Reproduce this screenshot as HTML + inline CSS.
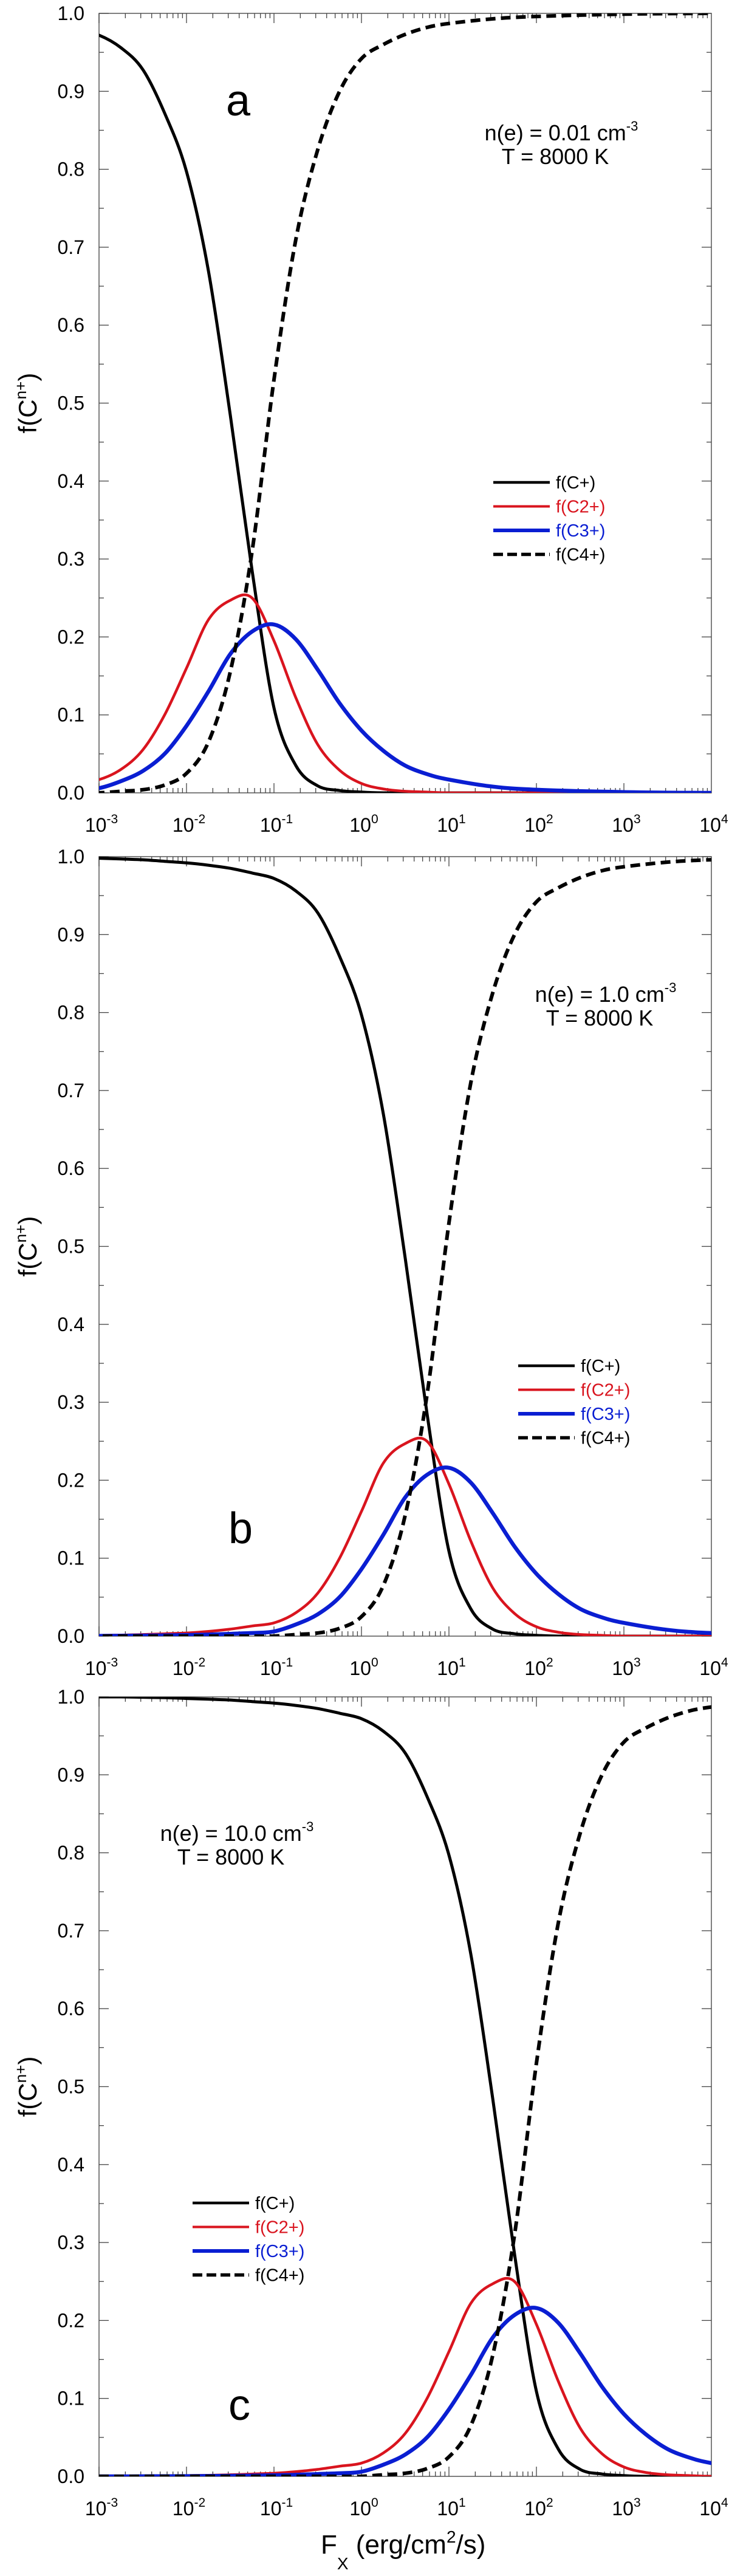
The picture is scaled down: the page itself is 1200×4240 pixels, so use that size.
<!DOCTYPE html>
<html><head><meta charset="utf-8"><title>Carbon ionization fractions vs X-ray flux</title>
<style>
html,body{margin:0;padding:0;background:#fff;}
svg{display:block;font-family:"Liberation Sans",Arial,sans-serif;}
</style></head>
<body>
<svg id="fig" width="1200" height="4240" viewBox="0 0 1200 4240" xmlns="http://www.w3.org/2000/svg">
<defs>
<clipPath id="clipA"><rect x="163" y="22" width="1008" height="1283"/></clipPath>
<clipPath id="clipB"><rect x="163" y="1410" width="1008" height="1283"/></clipPath>
<clipPath id="clipC"><rect x="163" y="2793" width="1008" height="1283"/></clipPath>
</defs>
</svg>
<script>
// Shape grid: log10(Fx) in panel-a coordinates
const logFluxGrid = [-6,-5.75,-5.5,-5.25,-5,-4.75,-4.5,-4.25,-4,-3.75,-3.5,-3.25,-3,-2.75,-2.5,-2.25,-2,-1.75,-1.5,-1.25,-1,-0.75,-0.5,-0.25,0,0.25,0.5,0.75,1,1.5,2,3,4,5,7];
const fCplus  = [1.0,1.0,0.9995,0.999,0.998,0.997,0.996,0.994,0.992,0.989,0.985,0.979,0.972,0.956,0.928,0.872,0.797,0.67,0.485,0.285,0.109,0.035,0.009,0.003,0.001,0,0,0,0,0,0,0,0,0,0];
const fC2plus = [0.0002,0.0003,0.0005,0.0007,0.001,0.0014,0.002,0.003,0.004,0.006,0.009,0.013,0.017,0.03,0.055,0.1,0.16,0.222,0.247,0.25,0.195,0.122,0.062,0.029,0.012,0.005,0.002,0.001,0,0,0,0,0,0,0];
const fC3plus = [0,0,0.0001,0.0002,0.0003,0.0005,0.0007,0.001,0.0015,0.002,0.003,0.004,0.006,0.015,0.028,0.05,0.086,0.13,0.178,0.207,0.216,0.197,0.158,0.115,0.08,0.054,0.035,0.024,0.017,0.008,0.004,0.001,0,0,0];
const fC4plus = [0,0,0,0,0,0,0,0,0,0,0,0,0,0.002,0.004,0.01,0.025,0.065,0.155,0.31,0.53,0.71,0.825,0.9,0.942,0.96,0.973,0.982,0.987,0.993,0.996,0.999,1,1,1];
// Panel shifts in decades (density scaling)
const panelShifts = [0, 2, 3];
const panelLetters = ["a","b","c"];
const densityLabels = ["0.01","1.0","10.0"];
const yTickLabels = ["0.0","0.1","0.2","0.3","0.4","0.5","0.6","0.7","0.8","0.9","1.0"];
const xTickExps = [-3,-2,-1,0,1,2,3,4];

const NS="http://www.w3.org/2000/svg";
const svg=document.getElementById('fig');
function mk(tag,attrs,parent){const e=document.createElementNS(NS,tag);for(const k in attrs)e.setAttribute(k,attrs[k]);(parent||svg).appendChild(e);return e;}

const L=163,R=1171,H=1283;
const tops=[22,1410,2793];
const clips=["clipA","clipB","clipC"];
const annot=[{x:924,y:231},{x:997,y:1649},{x:390,y:3030}];
const legendPos=[{x:812,y:794},{x:853,y:2248},{x:317,y:3626}];
const letterPos=[{x:392,y:190},{x:396,y:2540},{x:394,y:3983}];
const series=[
 {name:"f(C+)",vals:fCplus,color:"#000",w:5,dash:null},
 {name:"f(C2+)",vals:fC2plus,color:"#d9141e",w:4.5,dash:null},
 {name:"f(C3+)",vals:fC3plus,color:"#0a1ed2",w:6.5,dash:null},
 {name:"f(C4+)",vals:fC4plus,color:"#000",w:6,dash:"16 9"}
];

function catmull(pts){
  let d="M"+pts[0][0].toFixed(1)+","+pts[0][1].toFixed(1);
  for(let i=0;i<pts.length-1;i++){
    const p0=pts[i-1]||pts[i],p1=pts[i],p2=pts[i+1],p3=pts[i+2]||p2;
    const c1=[p1[0]+(p2[0]-p0[0])/6,p1[1]+(p2[1]-p0[1])/6];
    const c2=[p2[0]-(p3[0]-p1[0])/6,p2[1]-(p3[1]-p1[1])/6];
    d+="C"+c1[0].toFixed(1)+","+c1[1].toFixed(1)+" "+c2[0].toFixed(1)+","+c2[1].toFixed(1)+" "+p2[0].toFixed(1)+","+p2[1].toFixed(1);
  }
  return d;
}

panelShifts.forEach((shift,pi)=>{
  const T=tops[pi],B=T+H;
  const xs=v=>L+(v+3)/7*(R-L);
  const ys=v=>B-v*H;
  const g=mk('g',{});
  
  
  const fr=mk('rect',{x:L,y:T,width:R-L,height:H,fill:'none',stroke:'#555','stroke-width':1.5},g);
  
  
  for(let i=0;i<=20;i++){
    const y=ys(i*0.05),len=i%2===0?16:8;
    mk('line',{x1:L,x2:L+len,y1:y,y2:y,stroke:'#444','stroke-width':1.3},g);
    mk('line',{x1:R,x2:R-len,y1:y,y2:y,stroke:'#444','stroke-width':1.3},g);
  }
  yTickLabels.forEach((t,i)=>{
    const tx=mk('text',{x:139,y:ys(i*0.1)+11,'text-anchor':'end','font-size':32,fill:'#000'},g);
    tx.textContent=t;
    
    
  });
  for(let e=-3;e<4;e++){
    for(let m=1;m<10;m++){
      const x=xs(e+Math.log10(m)),len=m===1?16:8;
      mk('line',{x1:x,x2:x,y1:B,y2:B-len,stroke:'#444','stroke-width':1.3},g);
      mk('line',{x1:x,x2:x,y1:T,y2:T+len,stroke:'#444','stroke-width':1.3},g);
    }
  }
  xTickExps.forEach(e=>{
    const tx=mk('text',{x:xs(e)+4,y:B+64,'text-anchor':'middle','font-size':32,fill:'#000'},g);
    
    
    const a=mk('tspan',{},tx);a.textContent="10";
    const s=mk('tspan',{dy:-14,'font-size':21},tx);s.textContent=String(e);
  });
  const cg=mk('g',{'clip-path':'url(#'+clips[pi]+')'},g);
  series.forEach(s=>{
    const pts=logFluxGrid.map((u,k)=>[xs(u+shift),ys(s.vals[k])]);
    const p=mk('path',{d:catmull(pts),fill:'none',stroke:s.color,'stroke-width':s.w,'stroke-linejoin':'round'},cg);
    if(s.dash)p.setAttribute('stroke-dasharray',s.dash);
    
    
  });
  const lp=legendPos[pi];
  series.forEach((s,k)=>{
    const y=lp.y+k*39.5;
    const ln=mk('line',{x1:lp.x,x2:lp.x+93,y1:y,y2:y,stroke:s.color,'stroke-width':s.w-0.5},g);
    if(s.dash)ln.setAttribute('stroke-dasharray','16 7');
    
    
    const t=mk('text',{x:lp.x+103,y:y+10,'font-size':29,fill:s.color},g);
    t.textContent=s.name;
    
    
  });
  const an=annot[pi];
  const t1=mk('text',{x:an.x,y:an.y,'text-anchor':'middle','font-size':36,fill:'#000'},g);
  
  
  const a1=mk('tspan',{},t1);a1.textContent="n(e) = "+densityLabels[pi]+" cm";
  const a2=mk('tspan',{dy:-16,'font-size':22},t1);a2.textContent="-3";
  const t2=mk('text',{x:an.x-10,y:an.y+39,'text-anchor':'middle','font-size':36,fill:'#000'},g);
  t2.textContent="T = 8000 K";
  
  
  const lt=mk('text',{x:letterPos[pi].x,y:letterPos[pi].y,'text-anchor':'middle','font-size':72,fill:'#000'},g);
  lt.textContent=panelLetters[pi];
  
  
  const yt=mk('text',{x:0,y:0,'text-anchor':'middle','font-size':42,fill:'#000',transform:'translate(60,'+(T+H/2)+') rotate(-90)'},g);
  
  
  const y1=mk('tspan',{},yt);y1.textContent="f(C";
  const y2=mk('tspan',{dy:-17,'font-size':26},yt);y2.textContent="n+";
  const y3=mk('tspan',{dy:17},yt);y3.textContent=")";
});
const xt=mk('text',{x:528,y:4203,'font-size':44,fill:'#000'});


const x1=mk('tspan',{},xt);x1.textContent="F";
const x2=mk('tspan',{dy:26,'font-size':28},xt);x2.textContent="X";
const x3=mk('tspan',{dy:-26},xt);x3.textContent=" (erg/cm";
const x4=mk('tspan',{dy:-18,'font-size':28},xt);x4.textContent="2";
const x5=mk('tspan',{dy:18},xt);x5.textContent="/s)";
</script>
</body></html>
